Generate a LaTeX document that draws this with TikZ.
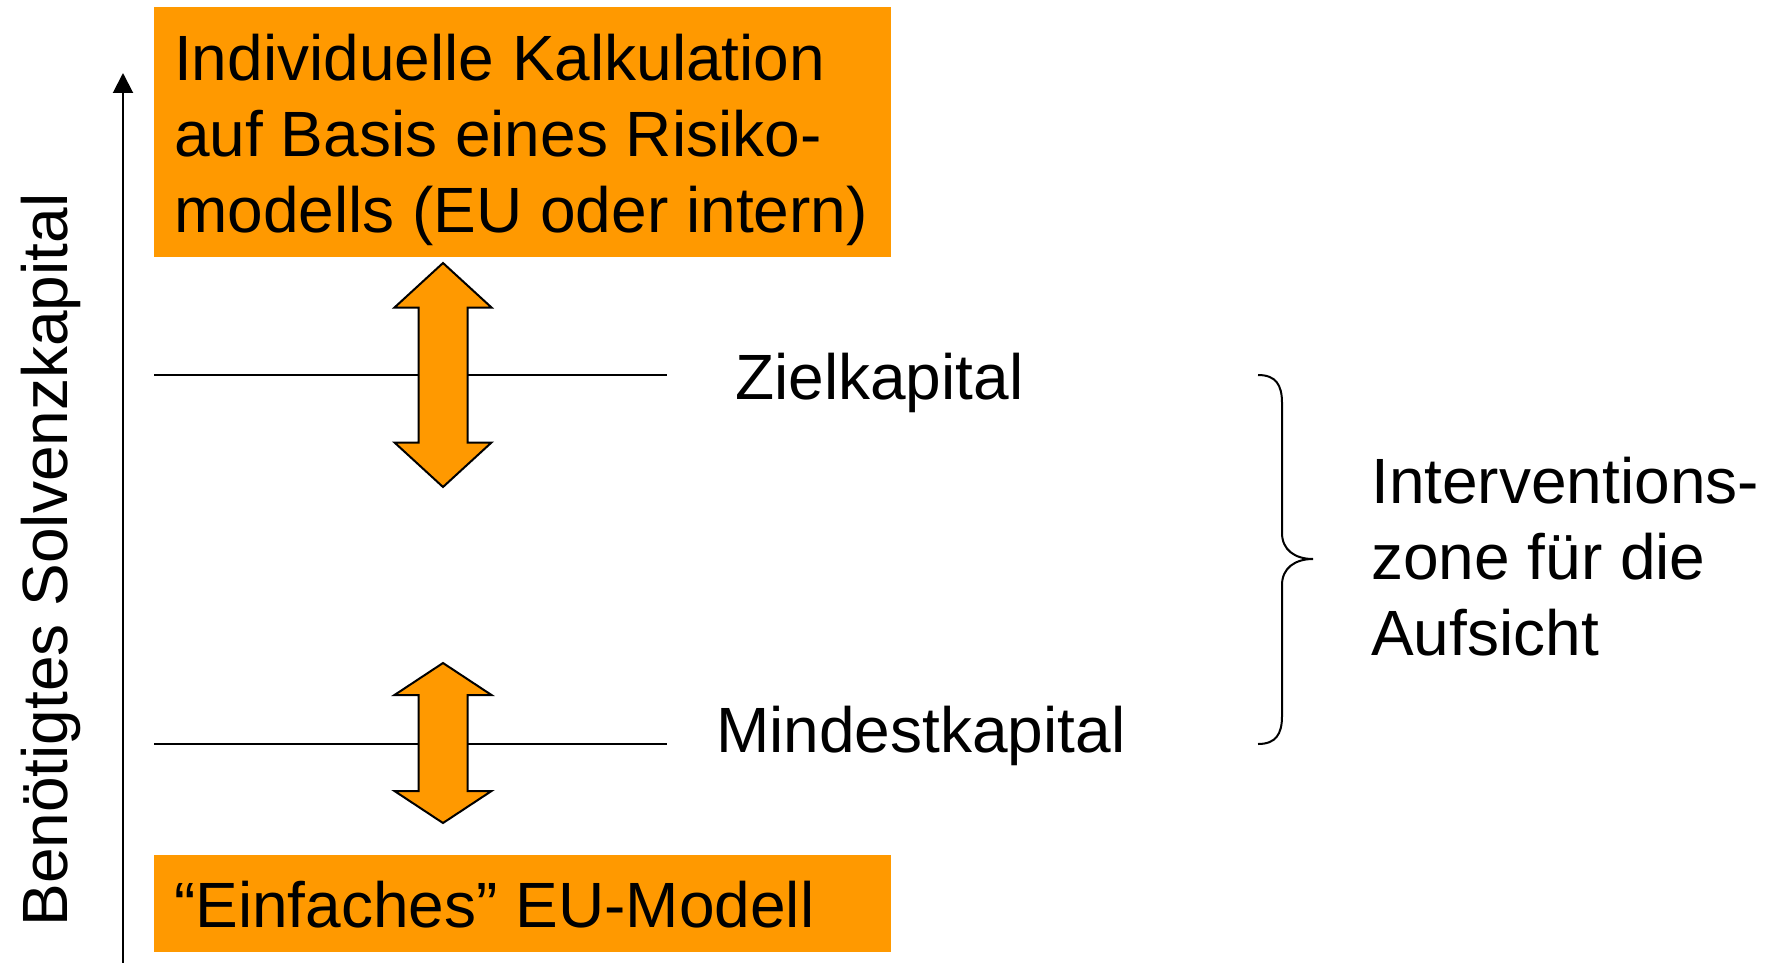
\documentclass[tikz,border=0pt]{standalone}
\usepackage{fontspec}
\setmainfont{Liberation Sans}
\usetikzlibrary{arrows.meta}
\definecolor{kastenorange}{HTML}{FF9900}
\tikzset{
	grosstext/.style={font=\fontsize{64}{76}\selectfont, inner sep=0pt}
}
\tikzset{
	kasten/.style={fill=kastenorange, anchor=north west, minimum width=737pt},
	beschriftung/.style={grosstext, anchor=base west, align=left}
}
\tikzset{
	duennlinie/.style={line width=2pt},
	pfeilform/.style={fill=kastenorange, draw=black, line width=2pt}
}
\newcommand{\dpfeil}[4]{%
  \filldraw[pfeilform] (#1,#2) -- (#1+48.5,#2+#4) -- (#1+24.5,#2+#4) -- (#1+24.5,#3-#4)
    -- (#1+48.5,#3-#4) -- (#1,#3) -- (#1-48.5,#3-#4) -- (#1-24.5,#3-#4)
    -- (#1-24.5,#2+#4) -- (#1-48.5,#2+#4) -- cycle;}

\begin{document}
\begin{tikzpicture}[x=1pt, y=-1pt]
      \useasboundingbox (0,0) rectangle (1771,963);
      \coordinate (achsefuss) at (123,963);
      \coordinate (achsespitze) at (123,73);
      \draw[duennlinie, -{Triangle[length=20pt,width=20pt]}] (achsefuss) -- (achsespitze);
      \node[grosstext, rotate=90, anchor=base] (achsename) at (67,560) {Benötigtes Solvenzkapital};

      \node[kasten, minimum height=250pt] (risikomodell) at (154,7) {};
      \node[beschriftung] (risikotext) at (174,232)
        {Individuelle Kalkulation\\auf Basis eines Risiko-\\modells (EU oder intern)};
      \node[kasten, minimum height=97pt] (standardmodell) at (154,855) {};
      \node[beschriftung] (standardtext) at (174,927) {“Einfaches” EU-Modell};

      \coordinate (ziel west) at (154,375);
      \coordinate (ziel ost) at (667,375);
      \coordinate (mindest west) at (154,744);
      \coordinate (mindest ost) at (667,744);
      \draw[duennlinie] (ziel west) -- (ziel ost);
      \draw[duennlinie] (mindest west) -- (mindest ost);
      \dpfeil{443}{263}{487}{44.5}
      \dpfeil{443}{663}{823}{32}

      \node[beschriftung] (zielkapital) at (735,399) {Zielkapital};
      \node[beschriftung] (mindestkapital) at (716,752) {Mindestkapital};

      \draw[duennlinie] (1258,375) .. controls (1276,375) and (1282,385) .. (1282,403)
        -- (1282,533) .. controls (1282,550) and (1295,559) .. (1313,559)
        .. controls (1295,559) and (1282,568) .. (1282,585)
        -- (1282,716) .. controls (1282,734) and (1276,744) .. (1258,744);
      \node[beschriftung] (aufsicht) at (1371,655) {Interventions-\\zone für die\\Aufsicht};
    \end{tikzpicture}
\end{document}
